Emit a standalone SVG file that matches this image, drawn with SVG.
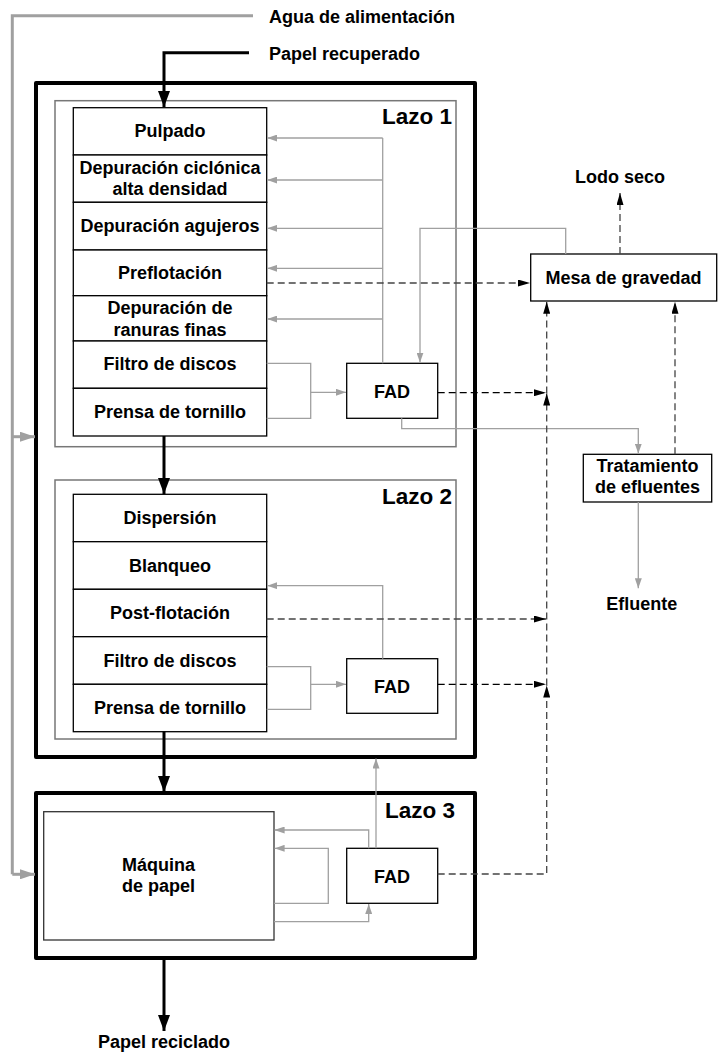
<svg xmlns="http://www.w3.org/2000/svg" width="718" height="1054" viewBox="0 0 718 1054">
<defs>
<style>
text{font-family:"Liberation Sans",Arial,sans-serif;font-weight:bold;font-size:18px;fill:#000}
.c{text-anchor:middle}
.r{text-anchor:end}
.lz{font-size:22.5px}
.outer{fill:none;stroke:#000;stroke-width:4;stroke-linejoin:round}
.inner{fill:none;stroke:#777;stroke-width:1.5}
.box{fill:#fff;stroke:#000;stroke-width:1.3}
.g{fill:none;stroke:#a0a0a0;stroke-width:1.3}
.gw{fill:none;stroke:#a0a0a0;stroke-width:3}
.k{fill:none;stroke:#000;stroke-width:3}
.d{fill:none;stroke:#000;stroke-width:1.3;stroke-dasharray:7 4}
.dg{fill:none;stroke:#444;stroke-width:1.3;stroke-dasharray:7 4}
</style>
<marker id="ag" markerUnits="userSpaceOnUse" markerWidth="10" markerHeight="7" refX="10" refY="3.5" orient="auto"><path d="M0,0 L10,3.5 L0,7 z" fill="#a0a0a0"/></marker>
<marker id="aw" markerUnits="userSpaceOnUse" markerWidth="15" markerHeight="10" refX="15" refY="5" orient="auto"><path d="M0,0 L15,5 L0,10 z" fill="#a0a0a0"/></marker>
<marker id="ad" markerUnits="userSpaceOnUse" markerWidth="12" markerHeight="7" refX="12" refY="3.5" orient="auto"><path d="M0,0 L12,3.5 L0,7 z" fill="#000"/></marker>
<marker id="ak" markerUnits="userSpaceOnUse" markerWidth="16" markerHeight="12" refX="16" refY="6" orient="auto"><path d="M0,0 L16,6 L0,12 z" fill="#000"/></marker>
</defs>

<g id="lazo12-outer"><rect class="outer" x="36" y="83" width="439" height="674"/></g>
<g id="lazo1"><rect class="inner" x="55" y="100.7" width="401" height="346"/><text class="lz r" x="452" y="124">Lazo 1</text></g>
<g id="lazo2"><rect class="inner" x="55" y="480" width="401" height="259"/><text class="lz r" x="452" y="504">Lazo 2</text></g>
<g id="lazo3"><rect class="outer" x="36" y="793" width="439" height="165"/><text class="lz r" x="455" y="818">Lazo 3</text></g>

<g id="stages1">
<rect class="box" x="73.3" y="107.7" width="193.4" height="47.3"/><text class="c" x="170" y="137">Pulpado</text>
<rect class="box" x="73.3" y="155" width="193.4" height="47.3"/><text class="c" x="170" y="174.3">Depuración ciclónica</text><text class="c" x="170" y="195">alta densidad</text>
<rect class="box" x="73.3" y="202.3" width="193.4" height="47.7"/><text class="c" x="170" y="232">Depuración agujeros</text>
<rect class="box" x="73.3" y="250" width="193.4" height="45.7"/><text class="c" x="170" y="279">Preflotación</text>
<rect class="box" x="73.3" y="295.7" width="193.4" height="45.3"/><text class="c" x="170" y="314">Depuración de</text><text class="c" x="170" y="335.7">ranuras finas</text>
<rect class="box" x="73.3" y="341" width="193.4" height="47.3"/><text class="c" x="170" y="370">Filtro de discos</text>
<rect class="box" x="73.3" y="388.3" width="193.4" height="47.7"/><text class="c" x="170" y="418">Prensa de tornillo</text>
</g>
<g id="fad1"><rect class="box" x="346.7" y="363.3" width="91" height="55"/><text class="c" x="392" y="397.5">FAD</text></g>

<g id="stages2">
<rect class="box" x="73.3" y="494.3" width="193.4" height="47.4"/><text class="c" x="170" y="524">Dispersión</text>
<rect class="box" x="73.3" y="541.7" width="193.4" height="47.6"/><text class="c" x="170" y="571.5">Blanqueo</text>
<rect class="box" x="73.3" y="589.3" width="193.4" height="47.4"/><text class="c" x="170" y="619">Post-flotación</text>
<rect class="box" x="73.3" y="636.7" width="193.4" height="47.6"/><text class="c" x="170" y="666.5">Filtro de discos</text>
<rect class="box" x="73.3" y="684.3" width="193.4" height="47.4"/><text class="c" x="170" y="714">Prensa de tornillo</text>
</g>
<g id="fad2"><rect class="box" x="346.7" y="658.7" width="91" height="54.6"/><text class="c" x="392" y="692.5">FAD</text></g>

<g id="maquina"><rect class="box" x="43.7" y="811.7" width="230.3" height="128.3" style="stroke:#333"/><text class="c" x="158.5" y="870.7">Máquina</text><text class="c" x="158.5" y="891.7">de papel</text></g>
<g id="fad3"><rect class="box" x="346.7" y="848.3" width="91" height="55"/><text class="c" x="392" y="882.5">FAD</text></g>

<g id="mesa"><rect class="box" x="530.7" y="254" width="186" height="47"/><text class="c" x="623.5" y="284">Mesa de gravedad</text></g>
<g id="tratamiento"><rect class="box" x="583.3" y="454.3" width="128.4" height="47.7"/><text class="c" x="647.5" y="472.3">Tratamiento</text><text class="c" x="647.5" y="493.3">de efluentes</text></g>

<g id="labels">
<text x="269" y="22.5">Agua de alimentación</text>
<text x="269" y="59.5">Papel recuperado</text>
<text class="c" x="620" y="183">Lodo seco</text>
<text class="c" x="641.7" y="610">Efluente</text>
<text class="c" x="164" y="1048">Papel reciclado</text>
</g>

<g id="connectors">
<polyline class="gw" points="253,15.7 12.3,15.7 12.3,874.3"/>
<line class="gw" x1="12.3" y1="436.7" x2="35" y2="436.7" marker-end="url(#aw)"/>
<line class="gw" x1="12.3" y1="874.3" x2="35" y2="874.3" marker-end="url(#aw)"/>
<polyline class="k" points="249,52.7 164,52.7 164,107" marker-end="url(#ak)"/>
<line class="k" x1="164" y1="436" x2="164" y2="494" marker-end="url(#ak)"/>
<line class="k" x1="164" y1="731.7" x2="164" y2="792" marker-end="url(#ak)"/>
<line class="k" x1="164" y1="960" x2="164" y2="1031" marker-end="url(#ak)"/>
<line class="g" x1="382.7" y1="363.3" x2="382.7" y2="138"/>
<line class="g" x1="382.7" y1="138" x2="267.3" y2="138" marker-end="url(#ag)"/>
<line class="g" x1="382.7" y1="180" x2="267.3" y2="180" marker-end="url(#ag)"/>
<line class="g" x1="382.7" y1="228.3" x2="267.3" y2="228.3" marker-end="url(#ag)"/>
<line class="g" x1="382.7" y1="268.3" x2="267.3" y2="268.3" marker-end="url(#ag)"/>
<line class="g" x1="382.7" y1="319" x2="267.3" y2="319" marker-end="url(#ag)"/>
<polyline class="g" points="266.7,363.3 310.7,363.3 310.7,418.3 266.7,418.3"/>
<line class="g" x1="310.7" y1="392.3" x2="346" y2="392.3" marker-end="url(#ag)"/>
<polyline class="g" points="565.7,254 565.7,228.3 420,228.3 420,362.6" marker-end="url(#ag)"/>
<polyline class="g" points="401.7,418.3 401.7,428.7 638.3,428.7 638.3,453.6" marker-end="url(#ag)"/>
<line class="g" x1="638.3" y1="502" x2="638.3" y2="588.3" marker-end="url(#ag)"/>
<polyline class="g" points="382.7,658.7 382.7,585.7 267.3,585.7" marker-end="url(#ag)"/>
<polyline class="g" points="266.7,666.7 310.7,666.7 310.7,709.3 266.7,709.3"/>
<line class="g" x1="310.7" y1="684.3" x2="346" y2="684.3" marker-end="url(#ag)"/>
<polyline class="g" points="368.7,848.3 368.7,830 274.6,830" marker-end="url(#ag)"/>
<polyline class="g" points="274,903.3 328.3,903.3 328.3,848.3 274.6,848.3" marker-end="url(#ag)"/>
<polyline class="g" points="274,921.7 368.7,921.7 368.7,904" marker-end="url(#ag)"/>
<line class="g" x1="376" y1="848.3" x2="376" y2="758.5" marker-end="url(#ag)"/>
<line class="dg" x1="266.7" y1="283" x2="530" y2="283" marker-end="url(#ad)"/>
<line class="d" x1="437.7" y1="392.7" x2="546" y2="392.7" marker-end="url(#ad)"/>
<line class="dg" x1="266.7" y1="619" x2="546" y2="619" marker-end="url(#ad)"/>
<line class="d" x1="437.7" y1="684.3" x2="546" y2="684.3" marker-end="url(#ad)"/>
<polyline class="dg" points="437.7,874 546.7,874 546.7,685.5" marker-end="url(#ad)"/>
<line class="dg" x1="546.7" y1="685.5" x2="546.7" y2="393.5" marker-end="url(#ad)"/>
<line class="dg" x1="546.7" y1="393.5" x2="546.7" y2="301.7" marker-end="url(#ad)"/>
<line class="dg" x1="675" y1="454.3" x2="675" y2="301.7" marker-end="url(#ad)"/>
<line class="dg" x1="620" y1="254" x2="620" y2="193" marker-end="url(#ad)"/>
</g>
</svg>
